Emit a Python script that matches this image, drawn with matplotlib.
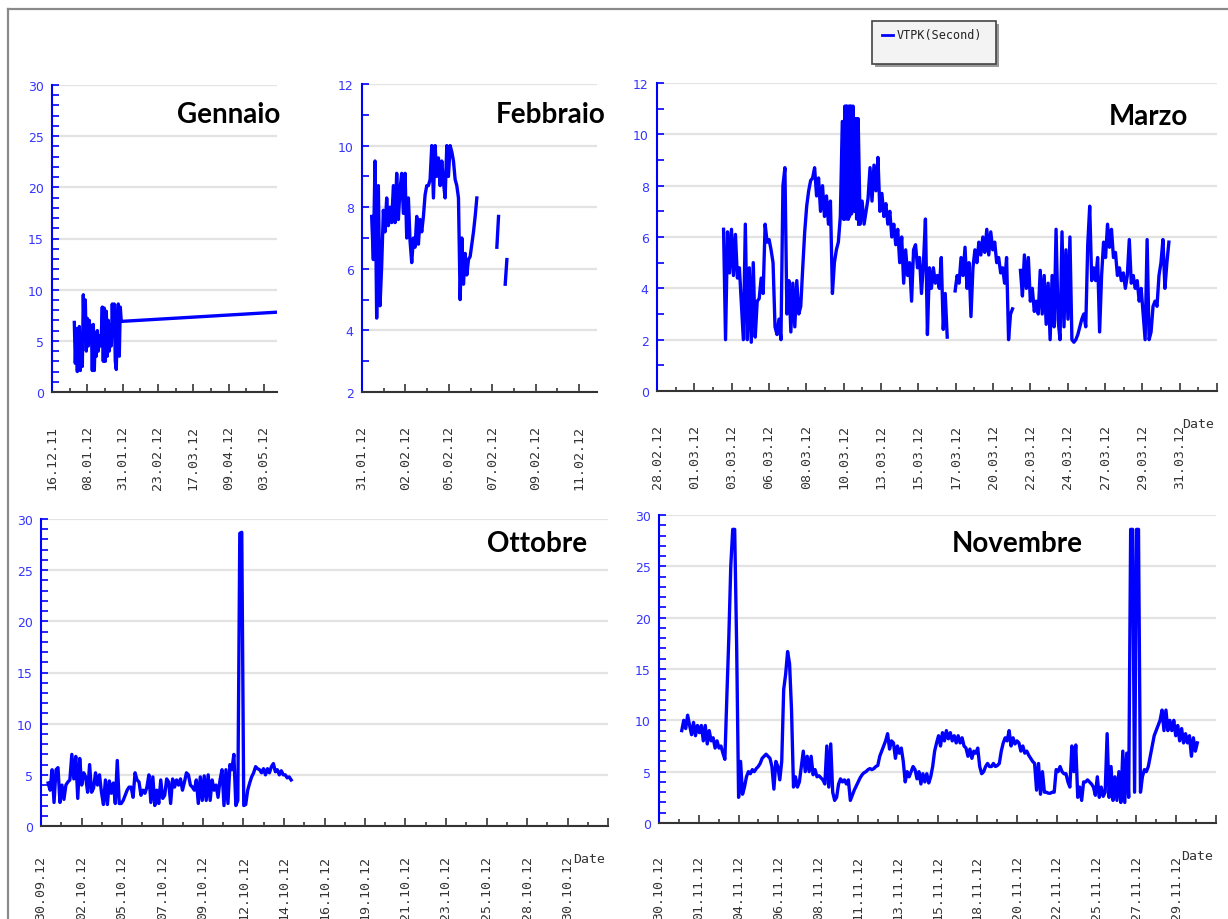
import numpy as np
import matplotlib.pyplot as plt
from matplotlib.ticker import FixedLocator, MultipleLocator
from matplotlib.lines import Line2D
from matplotlib.patches import Rectangle

W, H = 1228, 920
BLUE = '#0000ff'

# --- x tick labels (one every `step` days) ---
jan_labels = ['16.12.11', '08.01.12', '31.01.12', '23.02.12', '17.03.12', '09.04.12', '03.05.12']
feb_labels = ['31.01.12', '02.02.12', '05.02.12', '07.02.12', '09.02.12', '11.02.12']
mar_labels = ['28.02.12', '01.03.12', '03.03.12', '06.03.12', '08.03.12', '10.03.12', '13.03.12',
              '15.03.12', '17.03.12', '20.03.12', '22.03.12', '24.03.12', '27.03.12', '29.03.12',
              '31.03.12']
oct_labels = ['30.09.12', '02.10.12', '05.10.12', '07.10.12', '09.10.12', '12.10.12', '14.10.12',
              '16.10.12', '19.10.12', '21.10.12', '23.10.12', '25.10.12', '28.10.12', '30.10.12']
nov_labels = ['30.10.12', '01.11.12', '04.11.12', '06.11.12', '08.11.12', '11.11.12', '13.11.12',
              '15.11.12', '18.11.12', '20.11.12', '22.11.12', '25.11.12', '27.11.12', '29.11.12']

# --- VTPK readings (days from first tick, regular sampling) ---
jan_start, jan_dt = 14.54, 0.651
jan_vtpk = [6.8, 2.8, 6.2, 2.0, 5.5, 6.4, 2.1, 5.0, 2.5, 9.5,
            5.0, 9.0, 4.0, 7.2, 4.5, 7.0, 5.0, 6.5, 2.1, 6.6,
            2.1, 5.8, 3.5, 6.0, 4.0, 5.5, 4.5, 5.5, 8.3, 3.0,
            8.2, 3.0, 7.9, 3.5, 7.0, 4.0, 6.5, 4.5, 8.6, 5.5,
            8.6, 3.0, 2.2, 6.5, 8.6, 3.5, 8.3, 6.9]
jan_tail_day, jan_tail_vtpk = 146.5, 7.8

feb_start, feb_dt = 0.49, 0.0846
feb_vtpk = [7.7, 6.3, 9.5, 4.4, 8.7, 4.8, 6.1, 7.9, 7.2, 8.3,
            7.4, 8.0, 7.5, 8.7, 7.5, 9.1, 7.6, 8.6, 9.1, 7.8,
            9.1, 7.0, 8.3, 6.9, 6.2, 7.0, 6.7, 7.7, 6.8, 7.6,
            7.2, 7.7, 8.4, 8.7, 8.7, 8.9, 10.0, 8.3, 10.0, 9.0,
            9.6, 8.7, 9.5, 8.8, 8.3, 10.0, 9.0, 10.0, 9.8, 9.5,
            8.9, 8.7, 8.3, 5.0, 7.0, 5.5, 6.5, 5.8, 6.3, 6.4,
            6.8, 7.2, 7.7, 8.3, None, None, None, None, None, None,
            None, None, None, None, None, 6.7, 7.7, None, None, None,
            5.5, 6.3]

mar_start, mar_dt = 4.16, 0.1237
mar_vtpk = [6.3, 2.0, 6.2, 4.6, 6.3, 4.5, 6.1, 4.4, 4.8, 3.4,
            2.0, 6.5, 2.0, 4.8, 1.9, 5.0, 2.1, 3.5, 3.6, 4.4,
            3.8, 6.5, 5.8, 5.9, 5.5, 5.0, 2.5, 2.2, 2.8, 2.0,
            8.0, 8.7, 3.0, 4.3, 2.3, 4.2, 2.5, 4.3, 3.0, 3.3,
            4.8, 6.2, 7.2, 7.8, 8.2, 8.3, 8.7, 7.6, 8.3, 7.0,
            8.0, 6.8, 7.6, 6.5, 7.4, 3.8, 5.0, 5.5, 5.8, 6.8,
            10.5, 6.7, 11.1, 6.7, 11.1, 7.0, 10.6, 8.8, 10.6, 6.5,
            7.4, 6.5, 7.0, 7.5, 8.7, 7.4, 8.8, 7.8, 9.1, 7.0,
            7.7, 6.8, 7.3, 6.5, 7.0, 6.0, 6.5, 5.7, 6.3, 5.0,
            6.0, 4.2, 5.5, 4.5, 5.0, 3.5, 5.5, 5.7, 4.8, 5.2,
            3.8, 5.0, 6.7, 2.2, 4.8, 4.0, 4.8, 4.2, 4.5, 4.0,
            5.2, 2.4, 3.8, 2.1, None, None, None, 3.9, 4.5, 4.2,
            5.2, 4.5, 5.6, 4.0, 5.0, 2.9, 4.8, 5.5, 5.0, 5.8,
            5.3, 6.0, 5.4, 6.3, 5.3, 6.2, 5.5, 5.8, 5.0, 5.2,
            4.6, 4.8, 4.2, 5.2, 2.0, 3.0, 3.2, None, None, None,
            4.7, 3.7, 5.3, 4.0, 5.2, 3.5, 4.0, 3.1, 3.5, 3.0,
            4.7, 3.0, 4.5, 2.6, 4.2, 2.0, 4.5, 2.5, 6.3, 2.8,
            2.0, 6.2, 2.5, 5.5, 2.8, 6.0, 2.0, 1.9, 2.0, 2.2,
            2.5, 2.8, 3.0, 2.5, 5.7, 7.2, 4.3, 4.8, 4.3, 5.2,
            2.3, 4.5, 5.8, 5.2, 6.5, 5.6, 6.3, 5.2, 5.4, 4.5,
            4.8, 4.3, 4.6, 4.0, 4.5, 5.9, 4.2, 4.5, 4.0, 4.3,
            3.5, 4.0, 3.0, 2.0, 5.9, 2.0, 2.3, 3.3, 3.5, 3.3,
            4.5, 5.0, 5.9, 4.0, 5.0, 5.8]
# dense burst around 10.03 (finer sampling)
mar_burst_start, mar_burst_dt = 11.58, 0.032
mar_burst_vtpk = [6.8, 10.5, 6.7, 10.2, 6.7, 11.1, 6.8, 10.5, 6.7, 11.1,
                  7.0, 10.6, 6.7, 11.1, 6.8, 10.5, 7.0, 11.1, 6.9, 10.6,
                  7.2, 11.1, 8.8, 10.6, 7.0, 10.6, 9.0, 10.6, 6.7, 10.6,
                  8.8, 10.6, 6.5]

oct_start, oct_dt = 0.405, 0.1126
oct_vtpk = [4.2, 3.5, 5.5, 2.3, 5.5, 5.7, 2.3, 4.0, 2.6, 4.0,
            4.3, 4.5, 7.0, 4.6, 6.8, 2.7, 6.6, 4.0, 5.2, 4.8,
            3.3, 6.0, 3.3, 3.7, 5.2, 4.0, 5.0, 3.3, 2.1, 4.5,
            2.1, 4.4, 3.2, 4.2, 2.2, 6.4, 2.2, 2.2, 2.5, 3.0,
            3.5, 3.8, 3.8, 2.8, 5.2, 4.5, 4.3, 3.0, 3.5, 3.2,
            3.8, 5.0, 2.3, 4.8, 2.0, 3.5, 2.2, 4.5, 2.7, 3.0,
            4.6, 4.3, 2.2, 4.6, 3.8, 4.5, 4.0, 4.6, 3.5, 4.3,
            5.2, 5.0, 4.0, 3.8, 3.5, 4.5, 2.2, 4.8, 2.5, 4.9,
            2.5, 5.0, 2.5, 4.5, 3.5, 4.0, 2.8, 4.5, 5.5, 2.0,
            5.5, 2.2, 6.0, 5.5, 7.0, 2.0, 2.5, 28.6, 28.7, 2.0,
            2.1, 3.5, 4.2, 4.8, 5.2, 5.8, 5.6, 5.5, 5.2, 5.6,
            5.0, 5.6, 5.2, 5.8, 6.1, 5.3, 5.5, 5.0, 5.4, 5.0,
            5.0, 4.7, 4.8, 4.5]

nov_start, nov_dt = 1.32, 0.1137
nov_vtpk = [9.0, 10.0, 9.2, 10.5, 9.5, 8.6, 9.8, 8.5, 9.5, 8.8,
            9.5, 8.0, 9.5, 7.7, 9.0, 8.0, 8.3, 7.3, 8.0, 7.3,
            7.5, 6.8, 6.2, 12.3, 18.0, 25.0, 28.6, 28.6, 17.3, 2.5,
            6.0, 2.8, 3.5, 4.5, 5.0, 4.8, 5.2, 5.0, 5.3, 5.5,
            5.8, 6.3, 6.5, 6.7, 6.5, 6.3, 5.5, 3.3, 6.0, 5.5,
            4.2, 6.0, 13.0, 14.5, 16.7, 15.5, 11.0, 3.5, 4.5, 3.5,
            4.0, 5.5, 7.0, 5.0, 6.5, 5.0, 6.5, 4.7, 5.2, 4.5,
            4.6, 4.4, 4.2, 3.8, 7.5, 3.5, 7.7, 3.0, 2.2, 2.5,
            3.8, 4.3, 4.0, 4.2, 3.8, 4.2, 2.2, 2.7, 3.2, 3.6,
            4.0, 4.4, 4.7, 4.9, 5.0, 5.2, 5.3, 5.2, 5.3, 5.5,
            5.6, 6.5, 7.0, 7.5, 8.0, 8.7, 7.2, 8.0, 7.8, 6.3,
            7.5, 6.8, 7.3, 6.0, 4.0, 5.0, 4.5, 5.0, 5.5, 5.2,
            4.3, 5.0, 3.8, 4.8, 4.0, 4.8, 3.9, 4.5, 5.5, 7.0,
            7.8, 8.5, 7.5, 8.8, 8.0, 9.0, 8.2, 8.8, 8.0, 8.5,
            7.8, 8.5, 7.8, 8.3, 7.5, 7.3, 6.5, 7.2, 6.3, 7.0,
            6.8, 7.3, 5.5, 4.8, 5.0, 5.5, 5.8, 5.5, 5.5, 5.8,
            5.5, 5.6, 5.8, 7.0, 7.8, 8.3, 8.0, 9.0, 7.5, 8.3,
            7.7, 8.0, 7.8, 7.0, 7.5, 6.8, 7.0, 6.6, 6.3, 6.0,
            5.8, 3.2, 5.8, 2.8, 5.0, 3.0, 3.0, 2.9, 2.9, 3.0,
            3.0, 5.2, 5.0, 5.5, 5.0, 4.8, 4.8, 4.0, 3.5, 7.5,
            5.0, 7.6, 2.5, 3.5, 2.2, 4.0, 4.0, 4.2, 4.0, 3.8,
            3.5, 2.7, 4.5, 2.5, 3.5, 2.6, 3.0, 8.7, 2.5, 5.5,
            2.2, 4.5, 2.2, 5.0, 2.0, 7.0, 2.0, 6.8, 2.5, 28.6,
            28.6, 3.0, 28.6, 28.6, 3.0, 4.5, 5.2, 5.0, 5.5, 6.5,
            7.5, 8.5, 9.0, 9.5, 10.0, 11.0, 9.0, 11.0, 9.0, 10.0,
            9.0, 10.0, 8.5, 9.5, 8.0, 9.2, 7.8, 8.7, 7.8, 8.5,
            6.5, 8.3, 7.0, 7.8]


def px_axes(fig, left, top, right, bottom):
    return fig.add_axes([left / W, 1 - bottom / H, (right - left) / W, (bottom - top) / H])


def series(start, dt, vals):
    y = np.array([np.nan if v is None else v for v in vals], dtype=float)
    x = start + dt * np.arange(len(y))
    return x, y


def style_panel(ax, xmax, step, labels, ylim, ymajor, pad, date=True):
    ax.set_xlim(0, xmax)
    ax.set_ylim(*ylim)
    n = int(np.floor(xmax / step + 1e-6)) + 1
    majors = step * np.arange(n)
    ax.xaxis.set_major_locator(FixedLocator(majors))
    ax.xaxis.set_minor_locator(FixedLocator(majors + step / 2))
    ax.set_xticklabels([labels[i] if i < len(labels) else '' for i in range(n)],
                       rotation=90, family='DejaVu Sans Mono', fontsize=9.5, color='#333333')
    ax.yaxis.set_major_locator(MultipleLocator(ymajor))
    ax.yaxis.set_minor_locator(MultipleLocator(1))
    ax.tick_params(axis='x', which='major', direction='in', length=6, width=1.2,
                   color='#333333', pad=pad)
    ax.tick_params(axis='x', which='minor', direction='in', length=3, width=1.2, color='#333333')
    ax.tick_params(axis='y', which='both', direction='in', length=5, width=1.2, color=BLUE,
                   labelcolor='#3535ff', labelsize=9, pad=6)
    for s in ('top', 'right'):
        ax.spines[s].set_visible(False)
    ax.spines['left'].set_color(BLUE)
    ax.spines['left'].set_linewidth(1.5)
    ax.spines['bottom'].set_color('#333333')
    ax.spines['bottom'].set_linewidth(1.5)
    ax.grid(axis='y', which='major', color='#e3e3e3', linewidth=1.6)
    ax.set_axisbelow(True)
    if date:
        ax.text(0.995, -0.105, 'Date', transform=ax.transAxes, ha='right', va='center',
                family='DejaVu Sans Mono', fontsize=9.5, color='#333333')


fig = plt.figure(figsize=(W / 100, H / 100), dpi=100)

# outer frame of the screenshot
fig.add_artist(Line2D([8 / W, 8 / W], [0, 1 - 10 / H], color='#8a8a8a', lw=1.6))
fig.add_artist(Line2D([8 / W, 1], [1 - 10 / H, 1 - 10 / H], color='#8a8a8a', lw=1.6))

lw = 2.4

# Gennaio
ax = px_axes(fig, 52, 86, 277, 393)
x, y = series(jan_start, jan_dt, jan_vtpk)
x = np.append(x, jan_tail_day)
y = np.append(y, jan_tail_vtpk)
vtpk_line, = ax.plot(x, y, color=BLUE, lw=lw)
style_panel(ax, 146.6, 23, jan_labels, (0, 30), 5, 24, date=False)

# Febbraio
ax = px_axes(fig, 362, 85, 597, 393)
x, y = series(feb_start, feb_dt, feb_vtpk)
ax.plot(x, y, color=BLUE, lw=lw)
style_panel(ax, 11.91, 2.2, feb_labels, (2, 12), 2, 24, date=False)

# Marzo
ax = px_axes(fig, 657, 84, 1217, 392)
x, y = series(mar_start, mar_dt, mar_vtpk)
ax.plot(x, y, color=BLUE, lw=lw)
x, y = series(mar_burst_start, mar_burst_dt, mar_burst_vtpk)
ax.plot(x, y, color=BLUE, lw=lw)
style_panel(ax, 35.0, 7 / 3, mar_labels, (0, 12), 2, 24)

# Ottobre
ax = px_axes(fig, 41, 520, 608, 827)
x, y = series(oct_start, oct_dt, oct_vtpk)
ax.plot(x, y, color=BLUE, lw=lw)
style_panel(ax, 14 * 30 / 13, 30 / 13, oct_labels, (0, 30), 5, 21)

# Novembre
ax = px_axes(fig, 659, 516, 1216, 824)
x, y = series(nov_start, nov_dt, nov_vtpk)
ax.plot(x, y, color=BLUE, lw=lw)
style_panel(ax, 14 * 30 / 13, 30 / 13, nov_labels, (0, 30), 5, 23)

# month titles
titles = [('Gennaio', 229, 123), ('Febbraio', 551, 123), ('Marzo', 1148, 125),
          ('Ottobre', 537, 552), ('Novembre', 1017, 552)]
for t, cx, base in titles:
    fig.text(cx / W, 1 - base / H, t, ha='center', va='baseline', family='Lato',
             weight='bold', fontsize=20, color='black')

# legend box
fig.add_artist(Rectangle((875 / W, 1 - 68 / H), 124 / W, 43 / H, facecolor='#9a9a9a',
                         edgecolor='none'))
fig.add_artist(Rectangle((872 / W, 1 - 65 / H), 124 / W, 43 / H, facecolor='#f3f3f3',
                         edgecolor='#444444', lw=1.2))
fig.add_artist(Line2D([882 / W, 893 / W], [1 - 36 / H, 1 - 36 / H], color=BLUE, lw=2))
fig.text(897 / W, 1 - 36 / H, 'VTPK(Second)', ha='left', va='center',
         family='DejaVu Sans Mono', fontsize=8.5, color='#222222')

fig.savefig('out.png', dpi=100, facecolor='white')
